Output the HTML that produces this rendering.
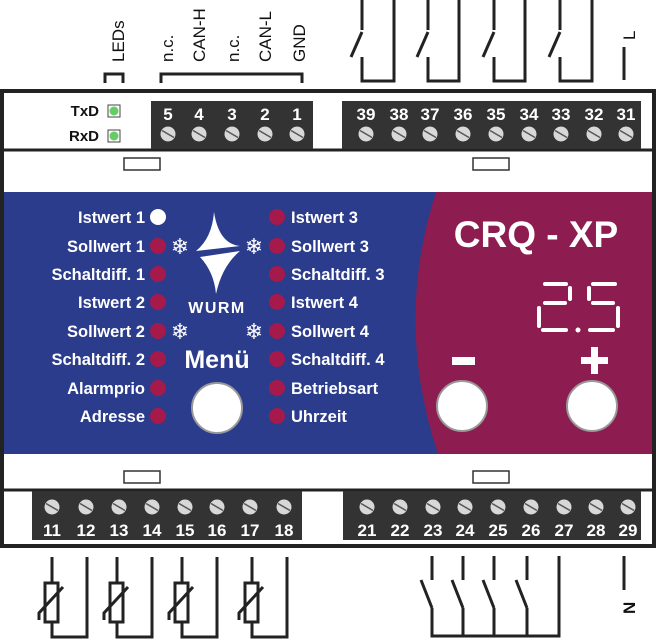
<!DOCTYPE html>
<html><head><meta charset="utf-8"><style>
html,body{margin:0;padding:0;background:#fff;}
svg{display:block;font-family:"Liberation Sans",Arial,sans-serif;}
</style></head><body>
<svg width="658" height="639" viewBox="0 0 658 639" xmlns="http://www.w3.org/2000/svg">
<defs>
<g id="scr"><circle r="7.5" fill="#d8d8d8"/><line x1="-6" y1="-3.5" x2="6" y2="3.5" stroke="#555" stroke-width="1.5"/></g>
</defs>
<rect x="2" y="91" width="652" height="455" fill="#fff" stroke="#222" stroke-width="4"/>
<line x1="2" y1="150" x2="654" y2="150" stroke="#222" stroke-width="3"/>
<line x1="2" y1="490" x2="654" y2="490" stroke="#222" stroke-width="3"/>
<rect x="4" y="192" width="648" height="262" fill="#2b3c8c"/>
<path d="M436,192 Q394,322 438,454 L652,454 L652,192 Z" fill="#8d1d50"/>
<rect x="124" y="158" width="36" height="12" fill="#fff" stroke="#333" stroke-width="1.5"/>
<rect x="473" y="158" width="36" height="12" fill="#fff" stroke="#333" stroke-width="1.5"/>
<rect x="124" y="471" width="36" height="12" fill="#fff" stroke="#333" stroke-width="1.5"/>
<rect x="473" y="471" width="36" height="12" fill="#fff" stroke="#333" stroke-width="1.5"/>
<g font-weight="bold" font-size="15" fill="#111" text-anchor="end">
<text x="99" y="116">TxD</text><text x="99" y="141">RxD</text></g>
<rect x="108" y="105" width="12" height="12" fill="#fff" stroke="#444"/><circle cx="114" cy="111" r="4.5" fill="#6c6"/>
<rect x="108" y="130" width="12" height="12" fill="#fff" stroke="#444"/><circle cx="114" cy="136" r="4.5" fill="#6c6"/>
<rect x="151" y="101" width="162" height="48" fill="#333"/>
<rect x="342" y="101" width="299" height="48" fill="#333"/>
<g fill="#fff" font-weight="bold" font-size="17" text-anchor="middle">
<text x="168" y="120">5</text><text x="199" y="120">4</text><text x="232" y="120">3</text><text x="265" y="120">2</text><text x="297" y="120">1</text>
<text x="366" y="120">39</text><text x="399" y="120">38</text><text x="430" y="120">37</text><text x="463" y="120">36</text><text x="496" y="120">35</text><text x="529" y="120">34</text><text x="561" y="120">33</text><text x="594" y="120">32</text><text x="626" y="120">31</text>
</g>
<use href="#scr" x="168" y="134"/><use href="#scr" x="199" y="134"/><use href="#scr" x="232" y="134"/><use href="#scr" x="265" y="134"/><use href="#scr" x="297" y="134"/>
<use href="#scr" x="366" y="134"/><use href="#scr" x="399" y="134"/><use href="#scr" x="430" y="134"/><use href="#scr" x="463" y="134"/><use href="#scr" x="496" y="134"/><use href="#scr" x="529" y="134"/><use href="#scr" x="561" y="134"/><use href="#scr" x="594" y="134"/><use href="#scr" x="626" y="134"/>
<rect x="32" y="491" width="270" height="49" fill="#333"/>
<rect x="343" y="491" width="298" height="49" fill="#333"/>
<g fill="#fff" font-weight="bold" font-size="17" text-anchor="middle">
<text x="52" y="536">11</text><text x="86" y="536">12</text><text x="119" y="536">13</text><text x="152" y="536">14</text><text x="185" y="536">15</text><text x="217" y="536">16</text><text x="250" y="536">17</text><text x="284" y="536">18</text>
<text x="367" y="536">21</text><text x="400" y="536">22</text><text x="433" y="536">23</text><text x="465" y="536">24</text><text x="498" y="536">25</text><text x="531" y="536">26</text><text x="564" y="536">27</text><text x="596" y="536">28</text><text x="628" y="536">29</text>
</g>
<use href="#scr" x="52" y="507"/><use href="#scr" x="86" y="507"/><use href="#scr" x="119" y="507"/><use href="#scr" x="152" y="507"/><use href="#scr" x="185" y="507"/><use href="#scr" x="217" y="507"/><use href="#scr" x="250" y="507"/><use href="#scr" x="284" y="507"/>
<use href="#scr" x="367" y="507"/><use href="#scr" x="400" y="507"/><use href="#scr" x="433" y="507"/><use href="#scr" x="465" y="507"/><use href="#scr" x="498" y="507"/><use href="#scr" x="531" y="507"/><use href="#scr" x="564" y="507"/><use href="#scr" x="596" y="507"/><use href="#scr" x="628" y="507"/>
<g font-size="17" fill="#111">
<text transform="translate(124,62) rotate(-90)">LEDs</text>
<text transform="translate(173,62) rotate(-90)">n.c.</text>
<text transform="translate(205,62) rotate(-90)">CAN-H</text>
<text transform="translate(239,62) rotate(-90)">n.c.</text>
<text transform="translate(271,62) rotate(-90)">CAN-L</text>
<text transform="translate(305,62) rotate(-90)">GND</text>
</g>
<g fill="none" stroke="#222" stroke-width="3">
<polyline points="105,83 105,74 123,74 123,83"/>
<polyline points="161,83 161,74 302,74 302,83"/>
<polyline points="362,0 362,30"/><polyline points="351,57 362,32"/><polyline points="362,57 362,81 394,81 394,0"/>
<polyline points="428,0 428,30"/><polyline points="417,57 428,32"/><polyline points="428,57 428,81 459,81 459,0"/>
<polyline points="494,0 494,30"/><polyline points="483,57 494,32"/><polyline points="494,57 494,81 525,81 525,0"/>
<polyline points="560,0 560,30"/><polyline points="549,57 560,32"/><polyline points="560,57 560,81 592,81 592,0"/>
<line x1="624" y1="47" x2="624" y2="80"/>
<polyline points="52,557 52,583"/><polyline points="52,622 52,637 87,637 87,557"/><rect x="45" y="583" width="13" height="39"/><polyline points="39,620 39,613 63,587"/>
<polyline points="117,557 117,583"/><polyline points="117,622 117,637 152,637 152,557"/><rect x="110" y="583" width="13" height="39"/><polyline points="104,620 104,613 128,587"/>
<polyline points="182,557 182,583"/><polyline points="182,622 182,637 217,637 217,557"/><rect x="175" y="583" width="13" height="39"/><polyline points="169,620 169,613 193,587"/>
<polyline points="252,557 252,583"/><polyline points="252,622 252,637 287,637 287,557"/><rect x="245" y="583" width="13" height="39"/><polyline points="239,620 239,613 263,587"/>
<line x1="432" y1="556" x2="432" y2="580"/><line x1="421" y1="580" x2="432" y2="608"/>
<line x1="463" y1="556" x2="463" y2="580"/><line x1="452" y1="580" x2="463" y2="608"/>
<line x1="494" y1="556" x2="494" y2="580"/><line x1="483" y1="580" x2="494" y2="608"/>
<line x1="527" y1="556" x2="527" y2="580"/><line x1="516" y1="580" x2="527" y2="608"/>
<polyline points="432,608 432,636 559,636 559,556"/>
<polyline points="463,608 463,636"/><polyline points="494,608 494,636"/><polyline points="527,608 527,636"/>
<line x1="624" y1="556" x2="624" y2="590"/>
</g>
<text transform="translate(635,40) rotate(-90)" font-size="17" fill="#111">L</text>
<text transform="translate(635,614) rotate(-90)" font-size="17" font-weight="bold" fill="#111">N</text>
<g font-weight="bold" font-size="16.5" fill="#fff" text-anchor="end">
<text x="145" y="223">Istwert 1</text><text x="145" y="252">Sollwert 1</text><text x="145" y="280">Schaltdiff. 1</text><text x="145" y="308">Istwert 2</text><text x="145" y="337">Sollwert 2</text><text x="145" y="365">Schaltdiff. 2</text><text x="145" y="394">Alarmprio</text><text x="145" y="422">Adresse</text>
</g>
<g font-weight="bold" font-size="16.5" fill="#fff">
<text x="291" y="223">Istwert 3</text><text x="291" y="252">Sollwert 3</text><text x="291" y="280">Schaltdiff. 3</text><text x="291" y="308">Istwert 4</text><text x="291" y="337">Sollwert 4</text><text x="291" y="365">Schaltdiff. 4</text><text x="291" y="394">Betriebsart</text><text x="291" y="422">Uhrzeit</text>
</g>
<g fill="#a51a4a">
<circle cx="158" cy="246" r="8"/><circle cx="158" cy="274" r="8"/><circle cx="158" cy="302" r="8"/><circle cx="158" cy="331" r="8"/><circle cx="158" cy="359" r="8"/><circle cx="158" cy="388" r="8"/><circle cx="158" cy="416" r="8"/>
<circle cx="277" cy="217" r="8"/><circle cx="277" cy="246" r="8"/><circle cx="277" cy="274" r="8"/><circle cx="277" cy="302" r="8"/><circle cx="277" cy="331" r="8"/><circle cx="277" cy="359" r="8"/><circle cx="277" cy="388" r="8"/><circle cx="277" cy="416" r="8"/>
</g>
<circle cx="158" cy="217" r="8" fill="#fff"/>
<g fill="#fff" font-size="22" font-weight="bold" text-anchor="middle" font-family="DejaVu Sans,sans-serif">
<text x="180" y="254">❄</text><text x="254" y="254">❄</text><text x="180" y="339">❄</text><text x="254" y="339">❄</text>
</g>
<path d="M214,212 Q212,238 196,251 L240,246 Q219,244 214,212 Z" fill="#fff"/>
<path d="M240,251 Q222,266 216,294 Q214,272 200,257 Z" fill="#fff"/>
<text x="217" y="313" font-weight="bold" font-size="16" fill="#fff" text-anchor="middle" letter-spacing="1.5">WURM</text>
<text x="217" y="368" font-weight="bold" font-size="25" fill="#fff" text-anchor="middle">Menü</text>
<circle cx="217" cy="408" r="25" fill="#fff" stroke="#999" stroke-width="2"/>
<text x="536" y="247" font-weight="bold" font-size="37" fill="#fff" text-anchor="middle">CRQ - XP</text>
<g stroke="#fff" stroke-width="4" stroke-linecap="round" fill="none">
<line x1="545" y1="284" x2="566" y2="284"/><line x1="570" y1="288" x2="570" y2="299"/><line x1="545" y1="303" x2="565" y2="303"/><line x1="539" y1="308" x2="539" y2="326"/><line x1="543" y1="330" x2="566" y2="330"/>
<line x1="593" y1="284" x2="615" y2="284"/><line x1="589" y1="288" x2="589" y2="299"/><line x1="593" y1="303" x2="613" y2="303"/><line x1="618" y1="308" x2="618" y2="326"/><line x1="590" y1="330" x2="613" y2="330"/>
</g>
<circle cx="578" cy="330" r="2.5" fill="#fff"/>
<rect x="452" y="357" width="23" height="8" fill="#fff"/>
<rect x="581" y="357" width="27" height="7" fill="#fff"/><rect x="591" y="347" width="7" height="27" fill="#fff"/>
<circle cx="462" cy="406" r="25" fill="#fff" stroke="#999" stroke-width="2"/>
<circle cx="592" cy="406" r="25" fill="#fff" stroke="#999" stroke-width="2"/>
</svg>
</body></html>
